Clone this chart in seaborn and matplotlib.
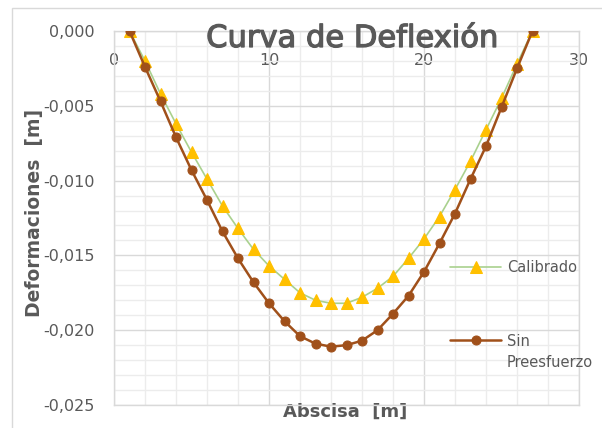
import matplotlib
matplotlib.use("Agg")
import matplotlib.pyplot as plt
import matplotlib.patheffects as pe
from matplotlib.patches import Rectangle
from matplotlib.ticker import MultipleLocator, FixedLocator, FixedFormatter
import seaborn as sns

# ---- data ----
abscisa = [1, 2, 3, 4, 5, 6, 7, 8, 9, 10, 11, 12, 13, 14,
           15, 16, 17, 18, 19, 20, 21, 22, 23, 24, 25, 26, 27]
calibrado = [0.0000, -0.0020, -0.0042, -0.0062, -0.0081, -0.0099, -0.0117,
             -0.0132, -0.0146, -0.0157, -0.0166, -0.0175, -0.0180, -0.0182,
             -0.0182, -0.0178, -0.0172, -0.0164, -0.0152, -0.0139, -0.0124,
             -0.0106, -0.0087, -0.0066, -0.0045, -0.0022, 0.0000]
sin_preesfuerzo = [0.0000, -0.0024, -0.0047, -0.0071, -0.0093, -0.0113, -0.0134,
                   -0.0152, -0.0168, -0.0182, -0.0194, -0.0204, -0.0209, -0.0211,
                   -0.0210, -0.0207, -0.0200, -0.0189, -0.0177, -0.0161, -0.0142,
                   -0.0122, -0.0099, -0.0077, -0.0051, -0.0025, 0.0000]
legend_labels = ["Calibrado", "Sin", "Preesfuerzo"]
x_ticks = [0, 10, 20, 30]
x_tick_labels = ["0", "10", "20", "30"]
y_ticks = [0.000, -0.005, -0.010, -0.015, -0.020, -0.025]
y_tick_labels = ["0,000", "-0,005", "-0,010", "-0,015", "-0,020", "-0,025"]
title = "Curva de Deflexión"
x_label = "Abscisa  [m]"
y_label = "Deformaciones  [m]"

# ---- style ----
sns.set_style("white")
plt.rcParams['font.family'] = ['DejaVu Sans']
TXT = '#595959'

fig = plt.figure(figsize=(6.02, 4.28), dpi=100)
ax = fig.add_axes([114 / 602, 1 - 405 / 428, 465 / 602, 374 / 428])

sns.lineplot(x=abscisa, y=calibrado, ax=ax, color='#A9D18E', linewidth=1.2,
             marker='^', markersize=9, markerfacecolor='#FFC000',
             markeredgecolor='#FFC000', label=legend_labels[0], zorder=3)
sns.lineplot(x=abscisa, y=sin_preesfuerzo, ax=ax, color='#A0501A', linewidth=1.8,
             marker='o', markersize=6.5, markerfacecolor='#A0501A',
             markeredgecolor='#A0501A', label=legend_labels[1], zorder=4)

ax.set_xlim(0, 30)
ax.set_ylim(-0.025, 0)
ax.xaxis.set_major_locator(FixedLocator(x_ticks))
ax.xaxis.set_major_formatter(FixedFormatter(x_tick_labels))
ax.xaxis.set_minor_locator(MultipleLocator(2))
ax.yaxis.set_major_locator(FixedLocator(y_ticks))
ax.yaxis.set_major_formatter(FixedFormatter(y_tick_labels))
ax.yaxis.set_minor_locator(MultipleLocator(0.001))
ax.grid(which='major', color='#d9d9d9', linewidth=1)
ax.grid(which='minor', color='#ececec', linewidth=1)
ax.set_axisbelow(True)
ax.tick_params(which='both', length=0)
ax.tick_params(axis='x', top=True, bottom=False, labeltop=True, labelbottom=False,
               pad=-26.5, labelsize=11.5, labelcolor=TXT)
ax.tick_params(axis='y', pad=14, labelsize=11.5, labelcolor=TXT)
for s in ax.spines.values():
    s.set_color('#d9d9d9')
    s.set_linewidth(1)

ax.set_xlabel(x_label, fontsize=13, fontweight='bold', color=TXT)
ax.xaxis.set_label_coords(0.497, -0.018)
ax.xaxis.label.set_va('center')
ax.set_ylabel(y_label, fontsize=13.5, fontweight='bold', color=TXT)
ax.yaxis.set_label_coords(-0.17, 0.514)
ax.yaxis.label.set_va('center')

fig.text(352 / 602, 1 - 47 / 428, title, ha='center', va='baseline',
         fontsize=22, color=TXT,
         path_effects=[pe.withStroke(linewidth=0.9, foreground=TXT)])

leg = ax.legend(loc='center left', bbox_to_anchor=(0.7226, 0.269), frameon=False,
                fontsize=10.5, labelcolor=TXT, handlelength=3.5, handletextpad=0.4,
                labelspacing=4.0, borderpad=0, borderaxespad=0)
ax.annotate(legend_labels[2], xy=(0, 0), xycoords=leg.get_texts()[1],
            xytext=(0, -4.5), textcoords='offset points', ha='left', va='top',
            fontsize=10.5, color=TXT, annotation_clip=False, zorder=6)

fig.patches.append(Rectangle((12 / 602, -0.1), 1.2, 1.1 - 8 / 428,
                             transform=fig.transFigure, fill=False,
                             edgecolor='#d9d9d9', linewidth=1))

fig.canvas.draw()
fig.savefig("out.png", dpi=100)
